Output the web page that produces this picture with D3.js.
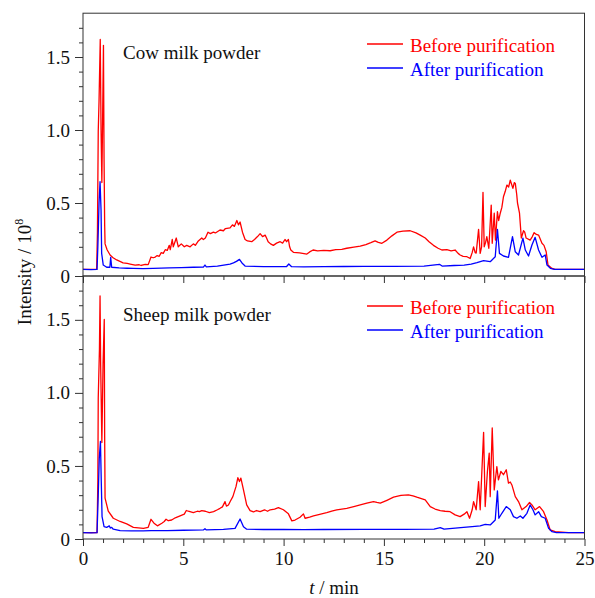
<!DOCTYPE html>
<html>
<head>
<meta charset="utf-8">
<script src="https://cdn.jsdelivr.net/npm/d3@7"></script>
<style>
  body { margin: 0; background: #fff; }
  text { font-family: "Liberation Serif", "Times New Roman", serif; }
</style>
</head>
<body>
<div class="chart"></div>
<script>

// tick values
var xMajor = [0, 5, 10, 15, 20, 25];
var xMinor = [1, 2, 3, 4, 6, 7, 8, 9, 11, 12, 13, 14, 16, 17, 18, 19, 21, 22, 23, 24];
var yMajor = [0, 0.5, 1.0, 1.5];
var yLabels = ["0", "0.5", "1.0", "1.5"];
var yMinor = [0.1, 0.2, 0.3, 0.4, 0.6, 0.7, 0.8, 0.9, 1.1, 1.2, 1.3, 1.4, 1.6, 1.7];

var panelNames = ["Cow milk powder", "Sheep milk powder"];
var seriesNames = ["Before purification", "After purification"];

// [t (min), intensity (10^8)]
var cowBefore = [
  [0, 0.045], [0.4, 0.046], [0.68, 0.045], [0.72, 0.3], [0.76, 0.99], [0.8, 1.2], [0.86, 1.62],
  [0.9, 1.0], [0.94, 0.64], [0.98, 1.1], [1.02, 1.58], [1.05, 0.8], [1.08, 0.35], [1.1, 0.22],
  [1.2, 0.18], [1.35, 0.144], [1.5, 0.125], [1.68, 0.11], [2.0, 0.09], [2.2, 0.086], [2.35, 0.082],
  [2.6, 0.075], [2.8, 0.077], [2.9, 0.072], [3.1, 0.08], [3.25, 0.078], [3.39, 0.13], [3.5, 0.125],
  [3.6, 0.13], [3.7, 0.14], [3.8, 0.135], [3.9, 0.16], [4.0, 0.155], [4.1, 0.18], [4.2, 0.175],
  [4.3, 0.21], [4.35, 0.18], [4.45, 0.25], [4.5, 0.2], [4.6, 0.24], [4.65, 0.26], [4.75, 0.2],
  [4.9, 0.22], [5.05, 0.2], [5.17, 0.21], [5.34, 0.2], [5.5, 0.22], [5.6, 0.21], [5.75, 0.24],
  [5.92, 0.26], [6.0, 0.25], [6.1, 0.26], [6.23, 0.3], [6.35, 0.29], [6.5, 0.3], [6.6, 0.295],
  [6.83, 0.315], [7.0, 0.31], [7.1, 0.325], [7.33, 0.33], [7.45, 0.35], [7.55, 0.34], [7.67, 0.38],
  [7.75, 0.35], [7.83, 0.37], [7.95, 0.3], [8.08, 0.25], [8.2, 0.24], [8.41, 0.235], [8.55, 0.25],
  [8.7, 0.27], [8.83, 0.29], [8.95, 0.27], [9.08, 0.28], [9.15, 0.26], [9.23, 0.235], [9.35, 0.22],
  [9.49, 0.21], [9.65, 0.225], [9.83, 0.235], [9.95, 0.225], [10.07, 0.25], [10.15, 0.235],
  [10.24, 0.25], [10.3, 0.2], [10.36, 0.178], [10.49, 0.162], [10.8, 0.158], [11.16, 0.15],
  [11.3, 0.165], [11.47, 0.178], [11.7, 0.172], [12.0, 0.175], [12.32, 0.173], [12.6, 0.18],
  [12.9, 0.183], [13.15, 0.19], [13.5, 0.198], [13.82, 0.205], [14.1, 0.215], [14.35, 0.228],
  [14.56, 0.24], [14.72, 0.23], [14.9, 0.224], [15.15, 0.246], [15.4, 0.275], [15.65, 0.3],
  [15.95, 0.308], [16.31, 0.31], [16.6, 0.295], [16.81, 0.28], [17.06, 0.26], [17.25, 0.235],
  [17.47, 0.21], [17.7, 0.19], [17.89, 0.178], [18.14, 0.18], [18.35, 0.172], [18.55, 0.178],
  [18.7, 0.155], [18.8, 0.144], [18.95, 0.135], [19.14, 0.132], [19.3, 0.12], [19.4, 0.16],
  [19.47, 0.2], [19.55, 0.16], [19.6, 0.157], [19.72, 0.32], [19.8, 0.155], [19.87, 0.2],
  [19.94, 0.573], [20.0, 0.2], [20.07, 0.23], [20.13, 0.27], [20.23, 0.19], [20.35, 0.486],
  [20.4, 0.224], [20.5, 0.43], [20.56, 0.246], [20.66, 0.44], [20.72, 0.38], [20.8, 0.43],
  [20.88, 0.47], [20.96, 0.543], [21.05, 0.58], [21.13, 0.623], [21.22, 0.61], [21.3, 0.657],
  [21.36, 0.63], [21.43, 0.6], [21.5, 0.64], [21.55, 0.634], [21.62, 0.56], [21.66, 0.5],
  [21.76, 0.43], [21.85, 0.26], [21.96, 0.31], [22.02, 0.3], [22.09, 0.26], [22.29, 0.246],
  [22.4, 0.27], [22.49, 0.297], [22.6, 0.285], [22.71, 0.28], [22.88, 0.224], [22.98, 0.21],
  [23.09, 0.166], [23.18, 0.075], [23.38, 0.052], [23.54, 0.045], [24.2, 0.046], [25, 0.045]
];

var cowAfter = [
  [0, 0.045], [0.4, 0.044], [0.7, 0.045], [0.74, 0.2], [0.8, 0.5], [0.85, 0.646], [0.9, 0.45],
  [0.93, 0.155], [1.01, 0.075], [1.18, 0.06], [1.34, 0.06], [1.38, 0.128], [1.43, 0.06],
  [1.8, 0.055], [2.2, 0.053], [2.5, 0.052], [3.0, 0.051], [3.5, 0.052], [3.9, 0.054], [4.3, 0.055],
  [4.9, 0.057], [5.5, 0.06], [6.0, 0.061], [6.08, 0.075], [6.15, 0.062], [6.7, 0.068],
  [7.33, 0.082], [7.5, 0.09], [7.65, 0.1], [7.8, 0.114], [7.95, 0.085], [8.08, 0.068],
  [9.0, 0.064], [10.15, 0.065], [10.26, 0.082], [10.4, 0.064], [11.0, 0.063], [12.0, 0.064],
  [13.0, 0.065], [14.0, 0.066], [15.5, 0.066], [17.0, 0.067], [17.77, 0.08], [17.9, 0.068],
  [18.5, 0.072], [19.0, 0.075], [19.35, 0.082], [19.64, 0.091], [19.97, 0.105], [20.3, 0.098],
  [20.55, 0.132], [20.66, 0.32], [20.76, 0.155], [20.96, 0.137], [21.21, 0.128], [21.41, 0.27],
  [21.55, 0.166], [21.71, 0.144], [21.93, 0.26], [22.05, 0.178], [22.21, 0.137], [22.38, 0.212],
  [22.54, 0.265], [22.71, 0.178], [22.88, 0.128], [23.04, 0.144], [23.13, 0.075], [23.3, 0.053],
  [23.5, 0.045], [25, 0.045]
];

var sheepBefore = [
  [0, 0.043], [0.4, 0.044], [0.7, 0.043], [0.74, 0.4], [0.76, 0.966], [0.82, 1.3], [0.85, 1.663],
  [0.88, 1.2], [0.94, 0.66], [1.0, 1.2], [1.06, 1.503], [1.08, 0.7], [1.1, 0.28], [1.26, 0.19],
  [1.51, 0.142], [1.85, 0.12], [2.18, 0.103], [2.51, 0.08], [3.01, 0.073], [3.25, 0.08],
  [3.39, 0.135], [3.54, 0.108], [3.71, 0.09], [3.93, 0.108], [4.05, 0.12], [4.14, 0.135],
  [4.25, 0.125], [4.42, 0.13], [4.6, 0.145], [4.84, 0.158], [5.05, 0.17], [5.15, 0.195],
  [5.25, 0.19], [5.5, 0.18], [5.7, 0.19], [5.8, 0.187], [5.92, 0.194], [6.1, 0.19], [6.3, 0.18],
  [6.51, 0.187], [6.7, 0.2], [6.83, 0.21], [6.95, 0.22], [7.08, 0.256], [7.15, 0.225],
  [7.25, 0.233], [7.35, 0.26], [7.47, 0.29], [7.63, 0.36], [7.72, 0.42], [7.8, 0.393],
  [7.87, 0.417], [8.0, 0.336], [8.16, 0.233], [8.33, 0.194], [8.5, 0.185], [8.65, 0.195],
  [8.83, 0.187], [9.05, 0.2], [9.2, 0.19], [9.33, 0.2], [9.55, 0.205], [9.74, 0.215],
  [9.99, 0.2], [10.24, 0.172], [10.41, 0.124], [10.57, 0.13], [10.82, 0.149], [10.99, 0.172],
  [11.07, 0.142], [11.3, 0.15], [11.49, 0.158], [11.8, 0.168], [12.15, 0.18], [12.4, 0.19],
  [12.65, 0.2], [12.9, 0.205], [13.15, 0.21], [13.5, 0.222], [13.82, 0.233], [14.15, 0.245],
  [14.48, 0.256], [14.65, 0.25], [14.82, 0.245], [15.15, 0.265], [15.48, 0.286], [15.85, 0.298],
  [16.22, 0.302], [16.45, 0.295], [16.64, 0.286], [17.06, 0.268], [17.31, 0.222], [17.55, 0.205],
  [17.81, 0.194], [18.05, 0.19], [18.3, 0.187], [18.55, 0.165], [18.8, 0.153], [19.0, 0.17],
  [19.14, 0.187], [19.27, 0.142], [19.4, 0.2], [19.47, 0.256], [19.6, 0.2], [19.72, 0.393],
  [19.8, 0.2], [19.97, 0.73], [20.05, 0.222], [20.16, 0.462], [20.25, 0.588], [20.3, 0.29],
  [20.4, 0.76], [20.5, 0.336], [20.63, 0.496], [20.71, 0.405], [20.83, 0.462], [20.96, 0.44],
  [21.1, 0.474], [21.21, 0.382], [21.3, 0.39], [21.38, 0.37], [21.55, 0.29], [21.71, 0.256],
  [21.88, 0.2], [22.09, 0.222], [22.26, 0.25], [22.38, 0.233], [22.54, 0.2], [22.76, 0.222],
  [22.96, 0.187], [23.13, 0.13], [23.29, 0.062], [23.54, 0.05], [24.2, 0.044], [25, 0.043]
];

var sheepAfter = [
  [0, 0.043], [0.4, 0.042], [0.7, 0.043], [0.76, 0.3], [0.81, 0.55], [0.87, 0.668], [0.91, 0.4],
  [0.95, 0.153], [1.05, 0.084], [1.18, 0.08], [1.31, 0.09], [1.36, 0.075], [1.43, 0.08],
  [1.51, 0.067], [1.85, 0.057], [2.4, 0.055], [3.0, 0.055], [3.4, 0.057], [4.2, 0.058],
  [5.0, 0.06], [6.0, 0.062], [6.08, 0.07], [6.15, 0.062], [7.0, 0.066], [7.58, 0.073],
  [7.83, 0.137], [8.0, 0.084], [8.16, 0.067], [9.0, 0.065], [10.0, 0.065], [11.0, 0.064],
  [12.0, 0.065], [14.0, 0.066], [16.0, 0.066], [17.5, 0.067], [17.81, 0.078], [18.0, 0.068],
  [18.97, 0.08], [19.4, 0.085], [19.8, 0.09], [20.05, 0.1], [20.3, 0.096], [20.55, 0.13],
  [20.66, 0.33], [20.73, 0.142], [20.88, 0.176], [21.1, 0.222], [21.3, 0.2], [21.46, 0.153],
  [21.63, 0.142], [21.8, 0.158], [21.93, 0.142], [22.13, 0.176], [22.29, 0.233], [22.43, 0.2],
  [22.54, 0.165], [22.71, 0.187], [22.85, 0.153], [23.04, 0.142], [23.21, 0.073], [23.38, 0.05],
  [23.6, 0.043], [25, 0.043]
];

var panels = [
  { name: panelNames[0], before: cowBefore, after: cowAfter },
  { name: panelNames[1], before: sheepBefore, after: sheepAfter }
];

var width = 595, height = 598;
var left = 83, right = 584.5;
var panelTops = [13.2, 276];
var panelBottoms = [276, 539];

var svg = d3.select(".chart").append("svg")
    .attr("width", width)
    .attr("height", height);

var x = d3.scaleLinear().domain([0, 25]).range([left, right]);

panels.forEach(function(p, i) {
  var y = d3.scaleLinear().domain([0, 1.8]).range([panelBottoms[i], panelTops[i]]);
  var g = svg.append("g");

  var line = d3.line()
      .x(function(d) { return x(d[0]); })
      .y(function(d) { return y(d[1]); });

  g.append("path")
      .datum(p.before)
      .attr("d", line)
      .attr("fill", "none")
      .attr("stroke", "#ff0000")
      .attr("stroke-width", 1.3)
      .attr("stroke-linejoin", "round");

  g.append("path")
      .datum(p.after)
      .attr("d", line)
      .attr("fill", "none")
      .attr("stroke", "#0000ff")
      .attr("stroke-width", 1.3)
      .attr("stroke-linejoin", "round");

  // y ticks
  var yAxis = g.append("g").attr("transform", "translate(" + left + ",0)")
      .call(d3.axisLeft(y).tickValues(yMajor).tickSize(8).tickPadding(5)
        .tickFormat(function(d, k) { return yLabels[k]; }));
  g.append("g").attr("transform", "translate(" + left + ",0)")
      .call(d3.axisLeft(y).tickValues(yMinor).tickSize(4).tickFormat(""));

  // x ticks
  var xAxis = g.append("g").attr("transform", "translate(0," + panelBottoms[i] + ")")
      .call(d3.axisBottom(x).tickValues(xMajor).tickSize(7).tickPadding(6)
        .tickFormat(i == 1 ? d3.format("d") : ""));
  g.append("g").attr("transform", "translate(0," + panelBottoms[i] + ")")
      .call(d3.axisBottom(x).tickValues(xMinor).tickSize(4).tickFormat(""));

  g.selectAll(".domain").remove();
  g.selectAll(".tick line").attr("stroke", "#333");
  g.selectAll(".tick text")
      .attr("font-family", "'Liberation Serif', serif")
      .attr("font-size", 19)
      .attr("fill", "#111");

  // frame
  g.append("rect")
      .attr("x", left)
      .attr("y", panelTops[i])
      .attr("width", right - left)
      .attr("height", panelBottoms[i] - panelTops[i])
      .attr("fill", "none")
      .attr("stroke", "#333")
      .attr("stroke-width", 1);

  var top = i == 0 ? 14 : 276;

  g.append("text")
      .text(p.name)
      .attr("x", 123)
      .attr("y", top + 45)
      .attr("font-size", 19)
      .style("fill", "#111");

  // legend
  var colors = ["#ff0000", "#0000ff"];
  seriesNames.forEach(function(s, k) {
    var ly = top + 30 + k * 24;
    g.append("line")
        .attr("x1", 367).attr("x2", 403)
        .attr("y1", ly).attr("y2", ly)
        .attr("stroke", colors[k])
        .attr("stroke-width", 1.4);
    g.append("text")
        .text(s)
        .attr("x", 410)
        .attr("y", ly + 8)
        .attr("font-size", 19)
        .style("fill", colors[k]);
  });
});

// axis titles
var yt = svg.append("text")
    .attr("transform", "translate(31,272) rotate(-90)")
    .attr("text-anchor", "middle")
    .attr("font-size", 19)
    .style("fill", "#111");
yt.append("tspan").text("Intensity / 10");
yt.append("tspan").text("8").attr("font-size", 12).attr("dy", -8);

var xt = svg.append("text")
    .attr("x", 334)
    .attr("y", 594)
    .attr("text-anchor", "middle")
    .attr("font-size", 19)
    .style("fill", "#111");
xt.append("tspan").text("t").attr("font-style", "italic");
xt.append("tspan").text(" / min");

</script>
</body>
</html>
